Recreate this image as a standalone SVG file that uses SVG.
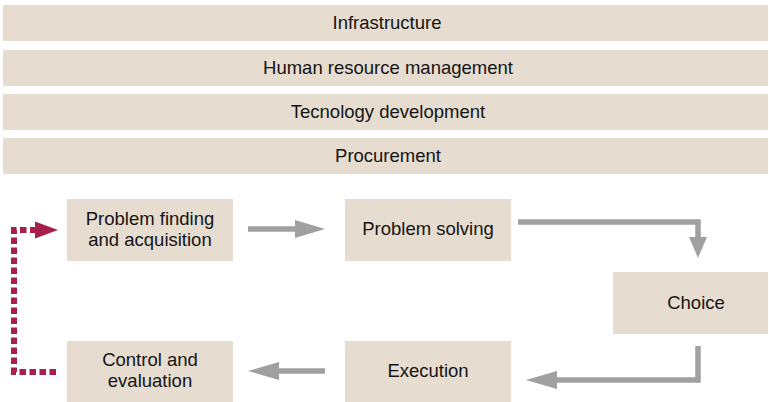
<svg xmlns="http://www.w3.org/2000/svg" width="769" height="402" viewBox="0 0 769 402">
<defs>
<style>
.bar{fill:#E6DCD0}
.box{fill:#E6DCD0}
text{font-family:"Liberation Sans",Arial,sans-serif;font-size:18.5px;fill:#141414;text-anchor:middle}
.g{stroke:#A0A0A0;stroke-width:5.5;fill:none}
.gh{fill:#A0A0A0}
.r{stroke:#A8204A;stroke-width:6;fill:none;stroke-dasharray:6.5 3.5}
.rh{fill:#A8204A}
</style>
</defs>
<rect width="769" height="402" fill="#FFFFFF"/>
<g id="infrastructure"><rect class="bar" x="3" y="5" width="765" height="36"/><text x="387" y="29">Infrastructure</text></g>
<g id="hrm"><rect class="bar" x="3" y="50" width="765" height="36"/><text x="388" y="74">Human resource management</text></g>
<g id="tech"><rect class="bar" x="3" y="94" width="765" height="36"/><text x="388" y="118">Tecnology development</text></g>
<g id="procurement"><rect class="bar" x="3" y="138" width="765" height="36"/><text x="388" y="162">Procurement</text></g>

<g id="problem-finding"><rect class="box" x="67" y="199" width="166" height="62"/><text x="150" y="225">Problem finding</text><text x="150" y="246">and acquisition</text></g>
<g id="problem-solving"><rect class="box" x="345" y="199" width="166" height="62"/><text x="428" y="235">Problem solving</text></g>
<g id="choice"><rect class="box" x="613" y="272" width="155" height="62"/><text x="696" y="309">Choice</text></g>
<g id="execution"><rect class="box" x="345" y="341" width="166" height="61"/><text x="428" y="377">Execution</text></g>
<g id="control"><rect class="box" x="67" y="341" width="166" height="61"/><text x="150" y="366">Control and</text><text x="150" y="387">evaluation</text></g>

<g id="connectors">
<path class="g" d="M248 229 H296"/>
<polygon class="gh" points="295,220 325,229 295,238"/>
<path class="g" d="M518 222 H698 V238"/>
<polygon class="gh" points="689,237 698,258 707,237"/>
<path class="g" d="M698 346 V380 H556"/>
<polygon class="gh" points="557,371 526,380 557,389"/>
<path class="g" d="M325 371 H277"/>
<polygon class="gh" points="279,362 248,371 279,380"/>
<path class="r" d="M56 372 H14 V230 H36"/>
<polygon class="rh" points="35,221.5 58,230 35,238.5"/>
</g>
</svg>
